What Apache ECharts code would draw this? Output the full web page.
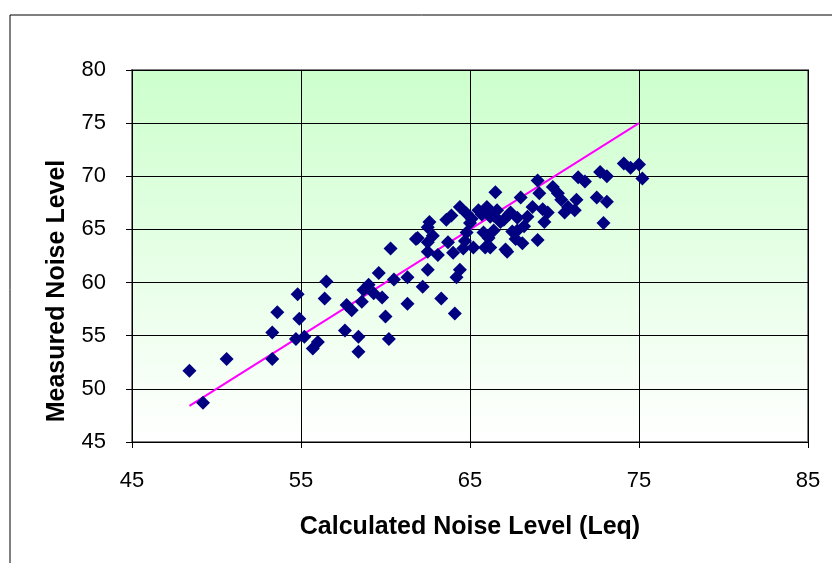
<!DOCTYPE html>
<html>
<head>
<meta charset="utf-8">
<script src="https://cdn.jsdelivr.net/npm/echarts@6/dist/echarts.min.js"></script>
<style>
html, body { margin: 0; padding: 0; background: #fff; }
#chart { width: 832px; height: 563px; }
</style>
</head>
<body>
<div id="chart"></div>
<script>
// calculated (x) vs measured (y) noise levels
var calcLevel = [
	48.4, 49.2, 50.6, 53.3, 53.3, 53.6, 54.8, 54.9, 54.7, 55.2,
	55.7, 56.0, 56.4, 56.5, 57.6, 57.7, 58.0, 58.4, 58.4, 58.7,
	58.6, 59.0, 59.3, 59.6, 59.8, 60.0, 60.2, 60.3, 60.5, 61.3,
	61.3, 61.8, 62.2, 62.5, 62.6, 62.5, 62.5, 61.9, 62.5, 63.1,
	63.3, 63.6, 63.9, 63.7, 64.0, 64.1, 64.2, 64.4, 64.4, 64.6,
	64.8, 64.8, 65.0, 65.5, 65.9, 66.0, 66.1, 66.2, 66.4, 66.2,
	66.5, 66.6, 67.0, 67.1, 67.4, 67.2, 67.8, 68.1, 68.0, 68.4,
	68.7, 69.0, 69.0, 69.1, 69.4, 69.9, 70.2, 70.6, 71.2, 71.3,
	71.4, 71.8, 72.5, 72.7, 73.1, 73.1, 72.9, 74.1, 74.5, 75.0,
	75.2, 67.5, 67.7, 68.2, 69.6, 69.3, 70.4, 70.8, 66.8, 65.8,
	65.2, 64.7, 62.8, 65.1, 65.7, 67.3, 67.8, 66.4
];
var measLevel = [
	51.7, 48.7, 52.8, 52.8, 55.3, 57.2, 58.9, 56.6, 54.7, 54.9,
	53.8, 54.4, 58.5, 60.1, 55.5, 57.9, 57.4, 54.9, 53.5, 59.3,
	58.2, 59.8, 59.0, 60.9, 58.6, 56.8, 54.7, 63.2, 60.3, 60.5,
	58.0, 64.1, 59.6, 65.2, 65.7, 62.9, 61.2, 64.2, 63.8, 62.6,
	58.5, 65.9, 66.3, 63.8, 62.8, 57.1, 60.5, 61.2, 67.1, 63.2,
	64.7, 66.5, 65.6, 66.8, 63.3, 67.1, 64.2, 66.2, 64.9, 63.3,
	68.5, 66.8, 65.9, 63.1, 66.6, 62.9, 64.9, 63.7, 68.0, 66.2,
	67.1, 64.0, 69.6, 68.4, 65.7, 69.0, 68.4, 66.6, 66.8, 67.8,
	69.9, 69.5, 68.0, 70.4, 70.0, 67.6, 65.6, 71.2, 70.8, 71.1,
	69.8, 64.8, 64.1, 65.3, 66.6, 66.9, 67.8, 67.1, 65.7, 64.7,
	63.3, 63.9, 64.4, 66.0, 66.4, 66.4, 66.1, 66.3
];
// 1:1 line drawn across the range of the data
var lineX = [48.4, 75.0];
var lineY = [48.4, 75.0];

var xTicks = { min: 45, max: 85, interval: 10 };
var yTicks = { min: 45, max: 80, interval: 5 };

var points = [];
for (var i = 0; i < calcLevel.length; i++) {
	points.push([calcLevel[i], measLevel[i]]);
}
var linePts = [];
for (var j = 0; j < lineX.length; j++) {
	linePts.push([lineX[j], lineY[j]]);
}

var font = '"Liberation Sans", Arial, sans-serif';

var chart = echarts.init(document.getElementById('chart'));
chart.setOption({
	animation: false,
	backgroundColor: '#ffffff',
	graphic: [{
		type: 'rect',
		shape: { x: 10, y: 15, width: 900, height: 700 },
		style: { fill: 'none', stroke: '#000', lineWidth: 1 },
		silent: true
	}],
	grid: {
		left: 132, top: 70, width: 676, height: 372,
		show: true,
		borderColor: '#808080',
		borderWidth: 2,
		backgroundColor: new echarts.graphic.LinearGradient(0, 0, 0, 1, [
			{ offset: 0, color: '#ccffcc' },
			{ offset: 1, color: '#ffffff' }
		])
	},
	xAxis: {
		type: 'value',
		min: xTicks.min, max: xTicks.max, interval: xTicks.interval,
		name: 'Calculated Noise Level (Leq)',
		nameLocation: 'middle',
		nameGap: 73,
		nameTextStyle: { fontFamily: font, fontSize: 25, fontWeight: 'bold', color: '#000' },
		axisLine: { show: true, lineStyle: { color: '#000', width: 1 } },
		axisTick: { show: true, length: 6, lineStyle: { color: '#000' } },
		axisLabel: { margin: 28, fontFamily: font, fontSize: 22, color: '#000' },
		splitLine: { show: true, lineStyle: { color: '#000', width: 1 } }
	},
	yAxis: {
		type: 'value',
		min: yTicks.min, max: yTicks.max, interval: yTicks.interval,
		name: 'Measured Noise Level',
		nameLocation: 'middle',
		nameGap: 62,
		nameTextStyle: {
			fontFamily: font, fontSize: 25, fontWeight: 'bold', color: '#000',
			padding: [0, 70, 0, 0]
		},
		axisLine: { show: true, lineStyle: { color: '#000', width: 1 } },
		axisTick: { show: true, length: 6, lineStyle: { color: '#000' } },
		axisLabel: { margin: 26, fontFamily: font, fontSize: 22, color: '#000' },
		splitLine: { show: true, lineStyle: { color: '#000', width: 1 } }
	},
	series: [
		{
			type: 'line',
			data: linePts,
			symbol: 'none',
			z: 2,
			lineStyle: { color: '#ff00ff', width: 2 }
		},
		{
			type: 'scatter',
			data: points,
			symbol: 'diamond',
			symbolSize: 14,
			z: 3,
			itemStyle: { color: '#000080', opacity: 1 }
		}
	]
});

window.onresize = function () {
	chart.resize();
};
</script>
</body>
</html>
